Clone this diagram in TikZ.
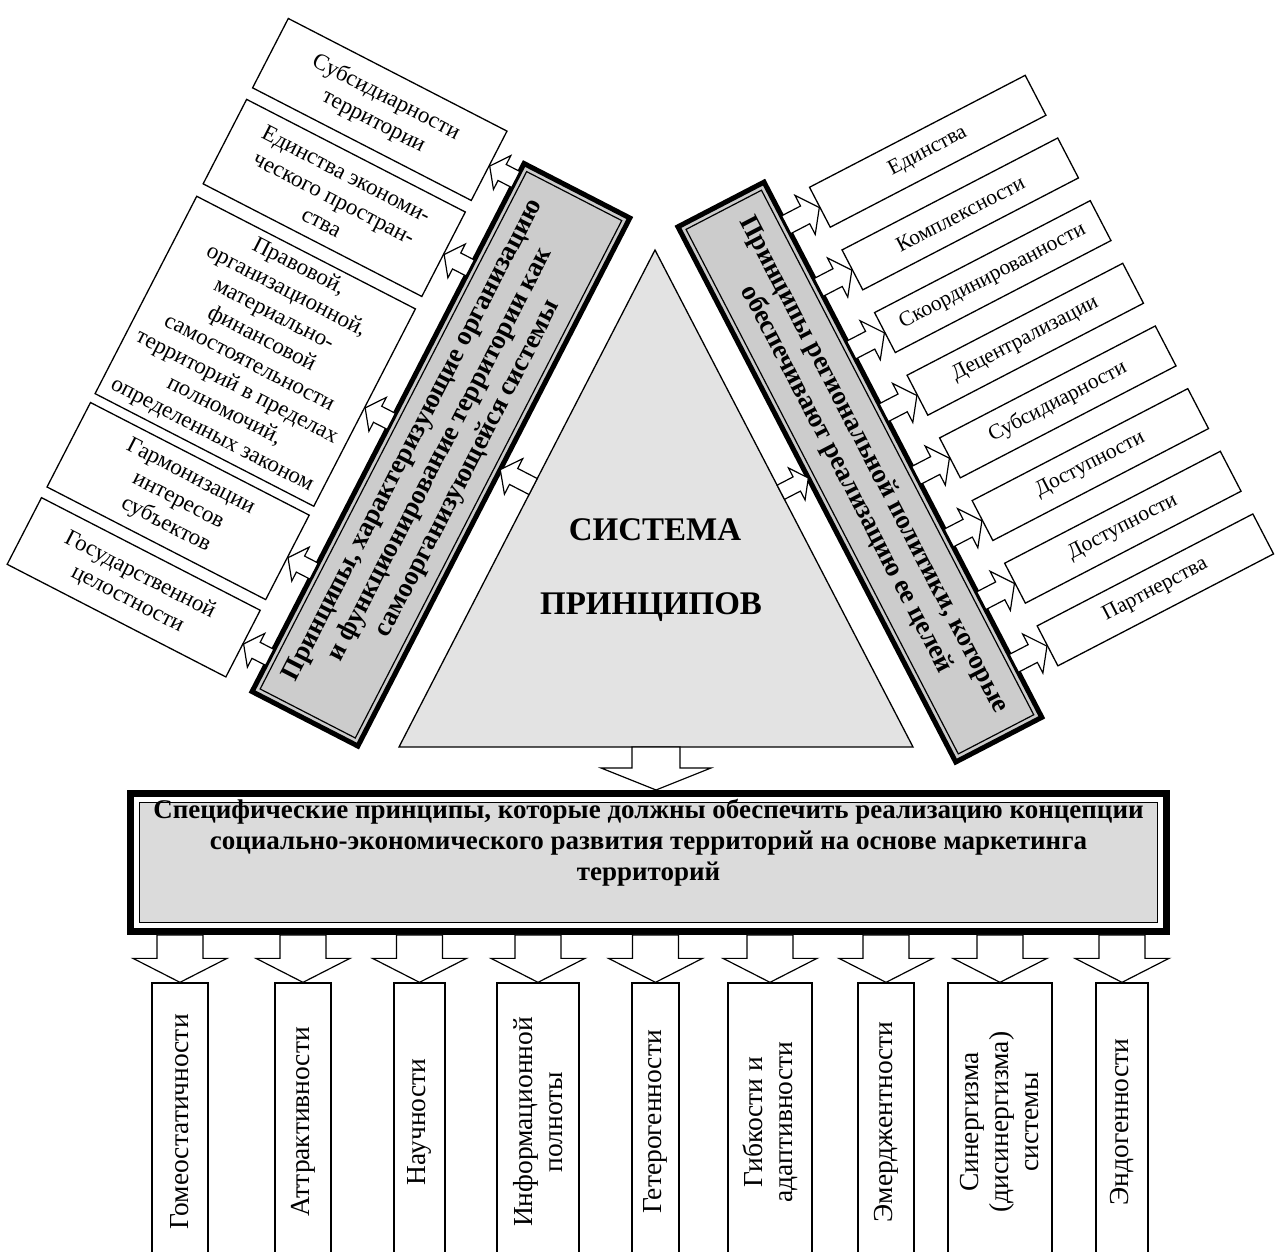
\documentclass[tikz,border=0pt]{standalone}
\usepackage{fontspec}
\setmainfont{Liberation Serif}
\usetikzlibrary{calc}

\tikzset{
  fatarrow/.style n args={3}{draw, fill=white, line width=1.2pt, line join=miter,
    to path={($(\tikztostart)!#1!90:(\tikztotarget)$)
      -- ($($(\tikztotarget)!#3!(\tikztostart)$)!#1!-90:(\tikztostart)$)
      -- ($($(\tikztotarget)!#3!(\tikztostart)$)!#2!-90:(\tikztostart)$)
      -- (\tikztotarget)
      -- ($($(\tikztotarget)!#3!(\tikztostart)$)!#2!90:(\tikztostart)$)
      -- ($($(\tikztotarget)!#3!(\tikztostart)$)!#1!90:(\tikztostart)$)
      -- ($(\tikztostart)!#1!-90:(\tikztotarget)$) -- cycle}},
  smallbox/.style={draw, line width=1.3pt, fill=white, align=center, inner sep=2pt},
  barbox/.style={draw, line width=5pt, fill=gray!40, align=center,
    font=\fontsize{27}{31}\selectfont\bfseries},
  barline/.style={draw, line width=1.2pt},
}

\begin{document}
\begin{tikzpicture}[x=1pt, y=1pt]
\useasboundingbox (0,0) rectangle (1282,1251);

% Triangle
\coordinate (apex) at (655,1001);
\coordinate (tl) at (399,504);
\coordinate (tr) at (913,504);
\draw[line width=1.3pt, fill=gray!22] (apex) -- (tl) -- (tr) -- cycle;
\node[font=\fontsize{33}{36}\selectfont\bfseries] (sys1) at (655,721) {СИСТЕМА};
\node[font=\fontsize{33}{36}\selectfont\bfseries] (sys2) at (651,644) {ПРИНЦИПОВ};

% Left side
\begin{scope}[shift={(tl)}, rotate=-27.25, every node/.append style={transform shape},
  lbox/.style={smallbox, minimum width=246pt, font=\fontsize{23}{27}\selectfont}]
  \node[barbox, rotate=90, minimum width=594pt, minimum height=119pt] (lbar) at (-96.5,279)
    {Принципы, характеризующие организацию\\и функционирование территории как\\самоорганизующейся системы};
  \node[barline, rotate=90, minimum width=582pt, minimum height=107pt] (lbarin) at (lbar.center) {};
  \node[lbox, minimum height=78pt] (lb1) at (-309,558) {Субсидиарности\\территории};
  \node[lbox, minimum height=95pt] (lb2) at (-309,458.5) {Единства экономи-\\ческого простран-\\ства};
  \node[lbox, minimum height=222pt] (lb3) at (-309,286)
    {Правовой,\\организационной,\\материально-\\финансовой\\самостоятельности\\территорий в пределах\\полномочий,\\определенных законом};
  \node[lbox, minimum height=95pt] (lb4) at (-309,117.5) {Гармонизации\\интересов\\субъектов};
  \node[lbox, minimum height=75pt] (lb5) at (-309,20.5) {Государственной\\целостности};
  \foreach \i/\y in {1/558,2/458.5,3/286,4/117.5,5/20.5}
    \coordinate (la\i) at (-156,\y);
  \coordinate (ltri) at (0,293);
  \coordinate (lbarend) at (-37,293);
\end{scope}

% Right side
\begin{scope}[shift={(tr)}, rotate=27.43, every node/.append style={transform shape}]
  \node[barbox, rotate=-90, minimum width=603pt, minimum height=97pt] (rbar) at (79.5,268.5)
    {Принципы региональной политики, которые\\обеспечивают реализацию ее целей};
  \node[barline, rotate=-90, minimum width=591pt, minimum height=85pt] (rbarin) at (rbar.center) {};
  \foreach \t [count=\i] in {Единства, Комплексности, Скоординированности, Децентрализации,
      Субсидиарности, Доступности, Доступности, Партнерства} {
    \node[smallbox, minimum width=243pt, minimum height=45pt, font=\fontsize{21.5}{24}\selectfont]
      (rb\i) at (287.5,{522-70.6*(\i-1)}) {\t};
    \coordinate (ra\i) at (128,{522-70.6*(\i-1)});
  }
  \coordinate (rtri) at (0,287);
  \coordinate (rbarend) at (31,287);
\end{scope}

% Arrows from the bars
\foreach \i in {1,...,5}
  \draw[fatarrow={9pt}{19pt}{14pt}] (la\i) to (lb\i.east);
\foreach \i in {1,...,8}
  \draw[fatarrow={10pt}{22pt}{16pt}] (ra\i) to (rb\i.west);
\draw[fatarrow={9pt}{20pt}{15pt}] (ltri) to (lbarend);
\draw[fatarrow={8pt}{18pt}{13pt}] (rtri) to (rbarend);

% Specific principles
\node[draw, line width=7pt, fill=white, minimum width=1036pt, minimum height=138pt] (mbox) at (648.5,388.5) {};
\node[draw, line width=1.5pt, fill=gray!28, minimum width=1018pt, minimum height=120pt] (mboxin) at (mbox.center) {};
\node[font=\fontsize{27}{31}\selectfont\bfseries, align=center] (mtext) at (648.5,408)
  {Специфические принципы, которые должны обеспечить реализацию концепции\\социально-экономического развития территорий на основе маркетинга\\территорий};
\coordinate (tbase) at ($(tl)!0.5!(tr)$);
\draw[fatarrow={24pt}{55pt}{22pt}] (tbase) to (mbox.north -| tbase);

% Bottom row
\foreach \x/\w/\t [count=\i] in {180/56/Гомеостатичности, 303/56/Аттрактивности, 419.5/51/Научности,
    538/82/{Информационной\\полноты}, 655.5/47/Гетерогенности, 770/84/{Гибкости и\\адаптивности},
    886/56/Эмерджентности, 1000/104/{Синергизма\\(дисинергизма)\\системы}, 1122/52/Эндогенности} {
  \node[smallbox, rotate=90, minimum width=278pt, minimum height={\w pt},
    font=\fontsize{27.5}{30}\selectfont] (b\i) at (\x,129) {\t};
  \draw[fatarrow={23pt}{47pt}{24pt}] (b\i.east |- mbox.south) to (b\i.east);
}

\end{tikzpicture}
\end{document}
